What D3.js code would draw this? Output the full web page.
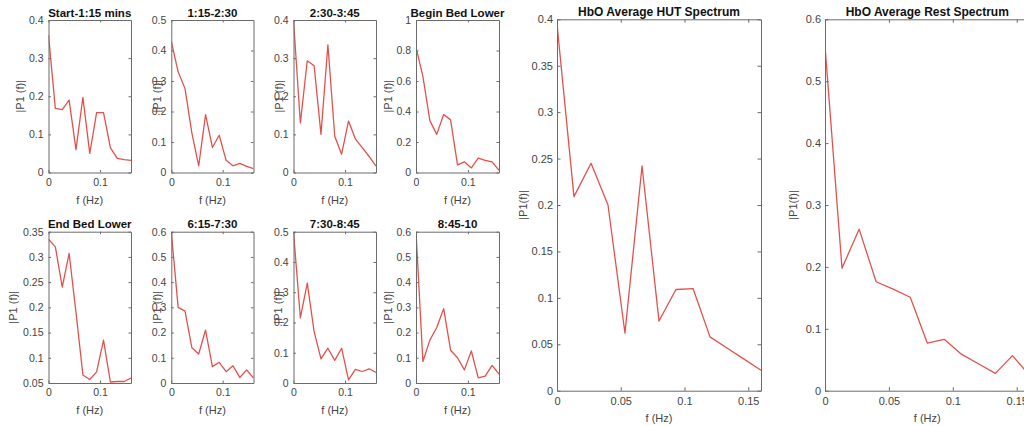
<!DOCTYPE html>
<html><head><meta charset="utf-8">
<script src="https://cdn.jsdelivr.net/npm/d3@7"></script>
<style>
html,body{margin:0;padding:0;background:#fff;}
svg{display:block;font-family:"Liberation Sans",Arial,Helvetica,sans-serif;}
</style></head>
<body><svg id="c" width="1024" height="426"></svg>
<script>
// ---------- data ----------
const freqHz = [0, 0.0133, 0.0267, 0.04, 0.0533, 0.0667, 0.08, 0.0933, 0.1067, 0.12, 0.1333, 0.1467, 0.16];

const titles = ["Start-1:15 mins", "1:15-2:30", "2:30-3:45", "Begin Bed Lower",
                "End Bed Lower", "6:15-7:30", "7:30-8:45", "8:45-10",
                "HbO Average HUT Spectrum", "HbO Average Rest Spectrum"];

const seg1 = [0.36, 0.168, 0.165, 0.19, 0.06, 0.197, 0.05, 0.157, 0.157, 0.065, 0.037, 0.034, 0.032];
const seg2 = [0.43, 0.33, 0.275, 0.13, 0.022, 0.19, 0.082, 0.122, 0.04, 0.022, 0.03, 0.02, 0.013];
const seg3 = [0.4, 0.13, 0.293, 0.28, 0.1, 0.335, 0.095, 0.048, 0.135, 0.088, 0.065, 0.042, 0.017];
const seg4 = [0.82, 0.63, 0.34, 0.25, 0.38, 0.345, 0.05, 0.07, 0.03, 0.095, 0.08, 0.07, 0.015];
const seg5 = [0.335, 0.32, 0.24, 0.307, 0.19, 0.066, 0.057, 0.072, 0.135, 0.052, 0.053, 0.053, 0.06];
const seg6 = [0.6, 0.3, 0.285, 0.14, 0.115, 0.21, 0.065, 0.082, 0.045, 0.068, 0.022, 0.052, 0.02];
const seg7 = [0.5, 0.215, 0.33, 0.17, 0.08, 0.115, 0.075, 0.115, 0.01, 0.045, 0.038, 0.047, 0.035];
const seg8 = [0.6, 0.085, 0.17, 0.22, 0.295, 0.13, 0.1, 0.052, 0.127, 0.02, 0.027, 0.07, 0.035];
const hutAvg  = [0.395, 0.209, 0.245, 0.2, 0.062, 0.242, 0.075, 0.109, 0.110, 0.058, 0.046, 0.034, 0.022];
const restAvg = [0.557, 0.198, 0.261, 0.176, 0.164, 0.151, 0.077, 0.083, 0.059, 0.0435, 0.028, 0.0566, 0.025];

const yTicks1 = [0, 0.1, 0.2, 0.3, 0.4];
const yTicks2 = [0, 0.1, 0.2, 0.3, 0.4, 0.5];
const yTicks3 = [0, 0.1, 0.2, 0.3, 0.4];
const yTicks4 = [0, 0.2, 0.4, 0.6, 0.8, 1];
const yTicks5 = [0.05, 0.1, 0.15, 0.2, 0.25, 0.3, 0.35];
const yTicks6 = [0, 0.1, 0.2, 0.3, 0.4, 0.5, 0.6];
const yTicks7 = [0, 0.1, 0.2, 0.3, 0.4, 0.5];
const yTicks8 = [0, 0.1, 0.2, 0.3, 0.4, 0.5, 0.6];
const yTicksHut = [0, 0.05, 0.1, 0.15, 0.2, 0.25, 0.3, 0.35, 0.4];
const yTicksRest = [0, 0.1, 0.2, 0.3, 0.4, 0.5, 0.6];
const xTicksSmall = [0, 0.1];
const xTicksLarge = [0, 0.05, 0.1, 0.15];
const xLabel = "f (Hz)";
const yLabelSmall = "|P1 (f)|";
const yLabelLarge = "|P1(f)|";

// ---------- layout ----------
const svg = d3.select("#c");
const LINE = "#e2524c", AX = "#6b6b6b", TXT = "#444";

const row1 = [20, 172.5], row2 = [231.7, 383];
const cols = [[48.5, 131], [171.3, 253.5], [293.5, 376], [416, 499]];
const ylabX = [[20, 157, 279, 388.5], [13.5, 157, 278, 388.5]];

const panels = [
  {s: seg1, t: titles[0], yd: [0, 0.4],  yt: yTicks1, r: row1, c: cols[0], lx: ylabX[0][0]},
  {s: seg2, t: titles[1], yd: [0, 0.5],  yt: yTicks2, r: row1, c: cols[1], lx: ylabX[0][1]},
  {s: seg3, t: titles[2], yd: [0, 0.4],  yt: yTicks3, r: row1, c: cols[2], lx: ylabX[0][2]},
  {s: seg4, t: titles[3], yd: [0, 1],    yt: yTicks4, r: row1, c: cols[3], lx: ylabX[0][3]},
  {s: seg5, t: titles[4], yd: [0.05, 0.35], yt: yTicks5, r: row2, c: cols[0], lx: ylabX[1][0]},
  {s: seg6, t: titles[5], yd: [0, 0.6],  yt: yTicks6, r: row2, c: cols[1], lx: ylabX[1][1]},
  {s: seg7, t: titles[6], yd: [0, 0.5],  yt: yTicks7, r: row2, c: cols[2], lx: ylabX[1][2]},
  {s: seg8, t: titles[7], yd: [0, 0.6],  yt: yTicks8, r: row2, c: cols[3], lx: ylabX[1][3]},
  {s: hutAvg,  t: titles[8], yd: [0, 0.4], yt: yTicksHut,  r: [19.3, 390.7], c: [557, 761], lx: 523.5, large: true},
  {s: restAvg, t: titles[9], yd: [0, 0.6], yt: yTicksRest, r: [19.3, 390.7], c: [825, 1029.5], lx: 793.5, large: true}
];

const fmt = v => String(+v.toFixed(3));

panels.forEach((p, i) => {
  const [x0, x1] = p.c, [y0, y1] = p.r;
  const x = d3.scaleLinear().domain([0, 0.16]).range([x0, x1]);
  const y = d3.scaleLinear().domain(p.yd).range([y1, y0]);
  const tl = p.large ? 3.5 : 2.5;
  const xt = p.large ? xTicksLarge : xTicksSmall;
  const fs = p.large ? "11px" : "10.5px";
  const g = svg.append("g");

  const style = sel => {
    sel.selectAll(".domain").attr("stroke", AX).attr("stroke-width", 1);
    sel.selectAll(".tick line").attr("stroke", AX).attr("stroke-width", 1);
    sel.selectAll(".tick text").attr("fill", TXT).style("font-size", fs).style("font-family", "inherit");
  };

  // line
  const clipId = "clip" + i;
  g.append("clipPath").attr("id", clipId).append("rect")
    .attr("x", x0).attr("y", y0).attr("width", x1 - x0).attr("height", y1 - y0);
  g.append("path").datum(p.s.map((v, k) => [freqHz[k], v]))
    .attr("clip-path", `url(#${clipId})`)
    .attr("fill", "none").attr("stroke", LINE).attr("stroke-width", 1.3)
    .attr("stroke-linejoin", "round")
    .attr("d", d3.line().x(d => x(d[0])).y(d => y(d[1])));

  // axes (box with inward ticks)
  g.append("g").attr("transform", `translate(0,${y1})`)
    .call(d3.axisBottom(x).tickValues(xt).tickFormat(fmt).tickSize(-tl).tickSizeOuter(0).tickPadding(p.large ? 7 : 6))
    .call(style);
  g.append("g").attr("transform", `translate(0,${y0})`)
    .call(d3.axisTop(x).tickValues(xt).tickFormat("").tickSize(-tl).tickSizeOuter(0))
    .call(style);
  g.append("g").attr("transform", `translate(${x0},0)`)
    .call(d3.axisLeft(y).tickValues(p.yt).tickFormat(fmt).tickSize(-tl).tickSizeOuter(0).tickPadding(p.large ? 4 : 5))
    .call(style);
  g.append("g").attr("transform", `translate(${x1},0)`)
    .call(d3.axisRight(y).tickValues(p.yt).tickFormat("").tickSize(-tl).tickSizeOuter(0))
    .call(style);

  // title
  g.append("text").attr("x", (x0 + x1) / 2).attr("y", y0 - 3.3)
    .attr("text-anchor", "middle").attr("fill", "#111")
    .style("font-size", p.large ? "12px" : "11.5px").style("font-weight", "bold").text(p.t);
  // x label
  g.append("text").attr("x", (x0 + x1) / 2).attr("y", y1 + 31)
    .attr("text-anchor", "middle").attr("fill", TXT)
    .style("font-size", "11px").text(xLabel);
  // y label
  g.append("text").attr("transform", `translate(${p.lx},${(y0 + y1) / 2}) rotate(-90)`)
    .attr("text-anchor", "middle").attr("dy", "0.35em").attr("fill", TXT)
    .style("font-size", "11px").text(p.large ? yLabelLarge : yLabelSmall);
});
</script>
</body></html>
